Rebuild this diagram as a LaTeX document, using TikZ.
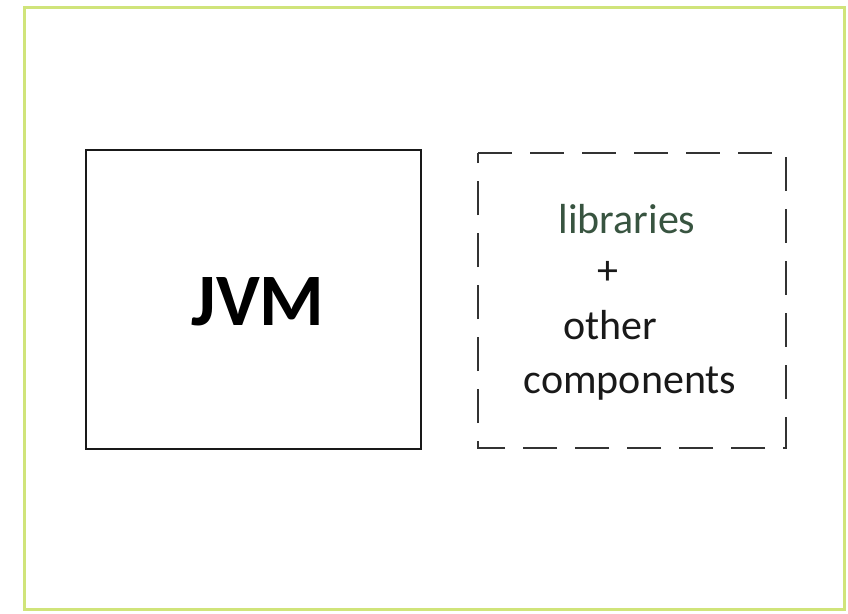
\documentclass[tikz,border=0pt]{standalone}
\usepackage{fontspec}
\setmainfont{Carlito}
\begin{document}
\begin{tikzpicture}[x=1pt,y=-1pt,
  frame/.style={draw=framegreen,line width=3pt},
  solidbox/.style={draw=black!90,line width=2.5pt},
  dashbox/.style={draw=black!80,line width=2.5pt,dash pattern=on 34pt off 18pt},
  bigtxt/.style={font=\fontsize{74}{80}\selectfont\bfseries,text=black},
  txt/.style={font=\fontsize{42}{50}\selectfont,text=black!90,anchor=base}]
\definecolor{framegreen}{RGB}{208,228,122}
\definecolor{libgreen}{RGB}{56,84,64}
\useasboundingbox (0,0) rectangle (848,613);
\fill[white] (0,0) rectangle (848,613);
% outer frame
\draw[frame] (24,7) rectangle (844,609);
% the JVM box
\node[solidbox,minimum width=335pt,minimum height=299pt,inner sep=0pt] (jvm) at (253.5,299.5) {};
\node[bigtxt] (jvmlabel) at (258,302) {JVM};
% dashed box for the remaining parts
\draw[dashbox] (478,153) -- (786,153) -- (786,448) -- (478,448) -- cycle;
\node[txt,text=libgreen] (lib) at (627,233) {libraries};
\node[txt] (plus) at (608,284) {+};
\node[txt] (other) at (610,339) {other};
\node[txt] (comp) at (630,393) {components};
\end{tikzpicture}
\end{document}
